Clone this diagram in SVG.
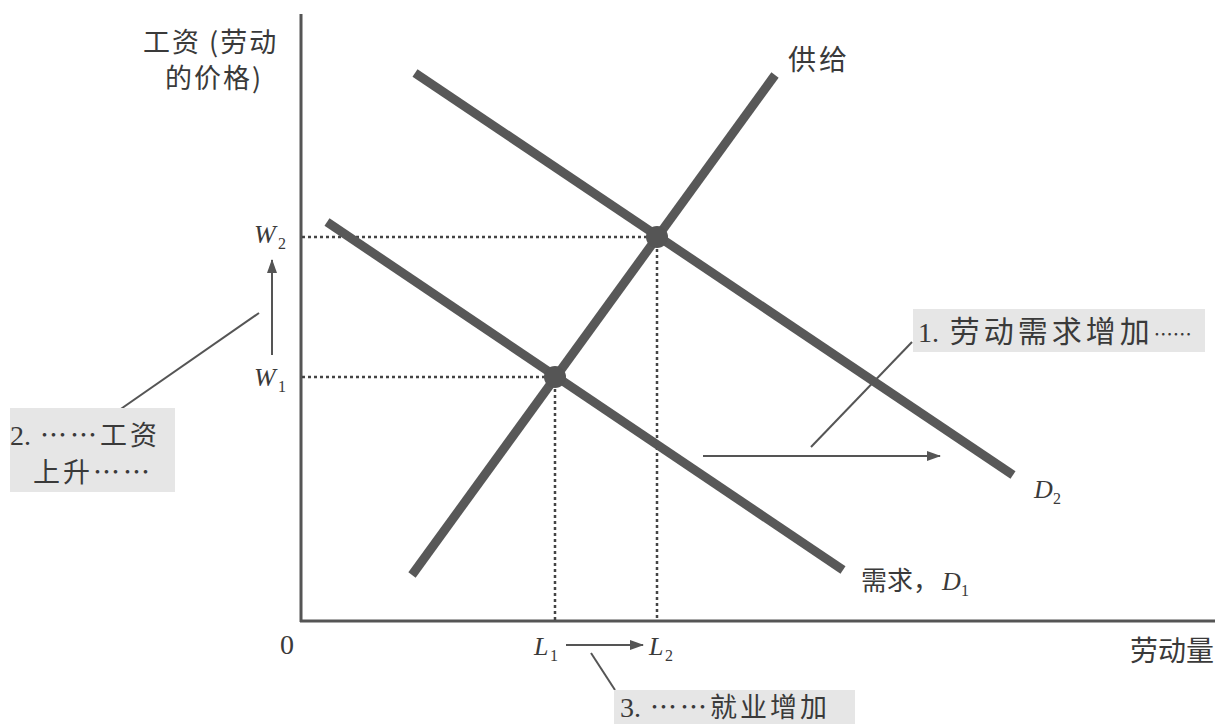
<svg xmlns="http://www.w3.org/2000/svg" width="1219" height="724" viewBox="0 0 1219 724">
<defs>
<style>
.cn{font-family:"Noto Sans CJK SC","Liberation Serif",serif;font-size:27px;fill:#3a3a3a}
.big{font-size:27px;letter-spacing:3px}
.it{font-family:"Liberation Serif",serif;font-style:italic;font-size:26px;fill:#3a3a3a}
.sub{font-family:"Liberation Serif",serif;font-size:16px;fill:#3a3a3a}
.num{font-family:"Liberation Serif",serif;font-size:28px;fill:#3a3a3a}
.curve{stroke:#585858;stroke-width:9;stroke-linecap:butt;fill:none}
.axis{stroke:#555;stroke-width:3;fill:none}
.dot{stroke:#444;stroke-width:2.5;stroke-dasharray:3 3;fill:none}
.thin{stroke:#555;stroke-width:2;fill:none}
.box{fill:#e6e6e6}
</style>
<marker id="ah" markerWidth="14" markerHeight="10" refX="13" refY="5" orient="auto" markerUnits="userSpaceOnUse">
<path d="M0,0 L14,5 L0,10 Z" fill="#555"/>
</marker>
</defs>
<rect width="1219" height="724" fill="#fff"/>

<g id="axes">
<line class="axis" x1="301" y1="14" x2="301" y2="622"/>
<line class="axis" x1="300" y1="621" x2="1215" y2="621"/>
<text class="num" x="280" y="654" font-size="24">0</text>
</g>

<g id="y-label">
<text class="cn" x="143" y="52" style="font-size:27px;letter-spacing:2px">工资 (劳动</text>
<text class="cn" x="165" y="88" style="font-size:27px;letter-spacing:2px">的价格)</text>
</g>
<g id="x-label">
<text class="cn" x="1130" y="661" style="font-size:28px">劳动量</text>
</g>

<g id="connectors">
<line class="dot" x1="302" y1="237" x2="657" y2="237"/>
<line class="dot" x1="302" y1="377" x2="555" y2="377"/>
<line class="dot" x1="555" y1="377" x2="555" y2="620"/>
<line class="dot" x1="657" y1="237" x2="657" y2="620"/>
<line class="thin" x1="272" y1="355" x2="272" y2="260" marker-end="url(#ah)"/>
<line class="thin" x1="259" y1="313" x2="115" y2="413"/>
<line class="thin" x1="912" y1="342" x2="811" y2="447"/>
<line class="thin" x1="703" y1="456" x2="940" y2="456" marker-end="url(#ah)"/>
<line class="thin" x1="566" y1="645" x2="643" y2="645" marker-end="url(#ah)"/>
<line class="thin" x1="591" y1="653" x2="615" y2="690"/>
</g>

<g id="supply">
<line class="curve" x1="412" y1="575" x2="775" y2="75"/>
<text class="cn" x="788" y="70" style="font-size:28px;letter-spacing:3px">供给</text>
</g>
<g id="demand-d1">
<line class="curve" x1="327" y1="222" x2="843" y2="570"/>
<text class="cn" x="861" y="590" style="font-size:26px">需求，</text>
<text class="it" x="942" y="590">D</text><text class="sub" x="961" y="596">1</text>
</g>
<g id="demand-d2">
<line class="curve" x1="415" y1="73" x2="1013" y2="475"/>
<text class="it" x="1034" y="498">D</text><text class="sub" x="1053" y="504">2</text>
</g>

<g id="eq1"><circle cx="555" cy="377" r="11" fill="#555"/></g>
<g id="eq2"><circle cx="657" cy="237" r="11" fill="#555"/></g>

<g id="w-labels">
<text class="it" x="254" y="243">W</text><text class="sub" x="278" y="249">2</text>
<text class="it" x="254" y="386">W</text><text class="sub" x="278" y="392">1</text>
</g>
<g id="l-labels">
<text class="it" x="534" y="655">L</text><text class="sub" x="550" y="661">1</text>
<text class="it" x="649" y="655">L</text><text class="sub" x="665" y="661">2</text>
</g>

<g id="note1">
<rect class="box" x="913" y="309" width="292" height="43"/>
<text class="cn" x="918" y="342" style="font-size:30px;letter-spacing:4px"><tspan class="num" style="font-size:28px;letter-spacing:0">1.</tspan> 劳动需求增加<tspan style="font-size:19px;letter-spacing:0">……</tspan></text>
</g>
<g id="note2">
<rect class="box" x="10" y="408" width="165" height="84"/>
<text class="cn big" x="10" y="445"><tspan class="num" style="letter-spacing:0">2.</tspan> ……工资</text>
<text class="cn big" x="33" y="482">上升……</text>
</g>
<g id="note3">
<rect class="box" x="614" y="690" width="241" height="34"/>
<text class="cn big" x="620" y="717"><tspan class="num" style="letter-spacing:0">3.</tspan> ……就业增加</text>
</g>
</svg>
